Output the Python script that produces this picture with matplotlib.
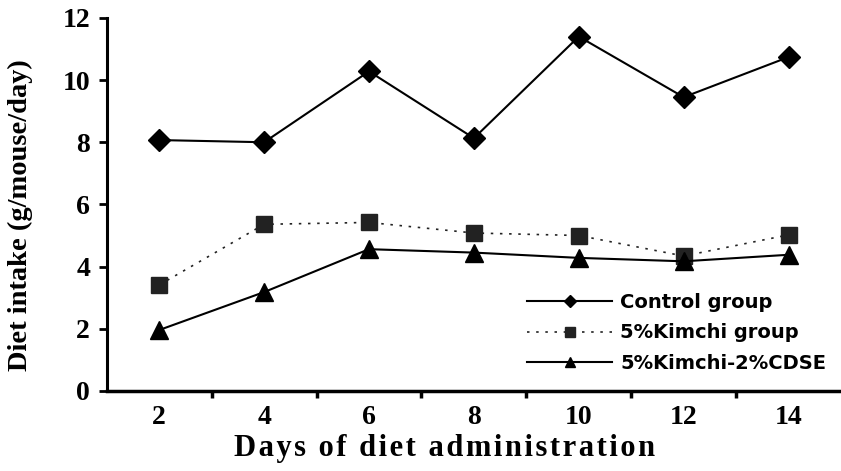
import numpy as np
import matplotlib
matplotlib.use("Agg")
import matplotlib.pyplot as plt
from matplotlib.ticker import FixedLocator

days = [2, 4, 6, 8, 10, 12, 14]
control = [8.07, 8.0, 10.28, 8.13, 11.4, 9.45, 10.74]
kimchi = [3.41, 5.36, 5.42, 5.08, 5.0, 4.34, 5.02]
kimchi_cdse = [1.96, 3.18, 4.56, 4.45, 4.28, 4.17, 4.38]
labels = ["Control group", "5%Kimchi group", "5%Kimchi-2%CDSE"]

fig = plt.figure(figsize=(8.41, 4.71), dpi=100)
ax = fig.add_axes([0.127, 0.17, 0.873, 0.792])

ax.plot(days, control, color="black", lw=1.5, marker="D", ms=11, label=labels[0])
ax.plot(days, kimchi, color="#222222", lw=1.2, ls=(0, (1.5, 4)), marker="s", ms=11,
        label=labels[1])
ax.plot(days, kimchi_cdse, color="black", lw=1.5, marker="^", ms=13, label=labels[2])

ax.set_xlim(1, 15)
ax.set_ylim(0, 12)
ax.set_xticks(days)
ax.xaxis.set_minor_locator(FixedLocator([3, 5, 7, 9, 11, 13]))
ax.tick_params(axis="x", which="major", length=0, pad=10)
ax.tick_params(axis="x", which="minor", length=5, width=2.5, direction="out")
ax.set_yticks(range(0, 13, 2))
ax.tick_params(axis="y", length=6, width=2, direction="out", pad=6)

for lab in ax.get_xticklabels() + ax.get_yticklabels():
    lab.set_fontfamily("Liberation Serif")
    lab.set_fontweight("bold")
    lab.set_fontsize(20)

ax.spines["top"].set_visible(False)
ax.spines["right"].set_visible(False)
ax.spines["left"].set_linewidth(2.2)
ax.spines["bottom"].set_linewidth(2.5)

xlab = "\u200a".join("Days of diet administration")
ax.set_xlabel(xlab, fontfamily="Liberation Serif", fontweight="bold", fontsize=22)
ax.xaxis.set_label_coords(0.46, -0.115)
ax.set_ylabel("Diet intake (g/mouse/day)", fontfamily="Liberation Serif",
              fontweight="bold", fontsize=20.5)
ax.yaxis.set_label_coords(-0.1, 0.47)

leg = ax.legend(loc="upper left", bbox_to_anchor=(0.572, 0.262), frameon=False,
                prop={"family": "DejaVu Sans", "weight": "bold", "size": 14},
                handlelength=4.4, handletextpad=0.4, labelspacing=0.58,
                markerscale=0.6, borderpad=0, borderaxespad=0)

fig.savefig("out.png", dpi=100)
